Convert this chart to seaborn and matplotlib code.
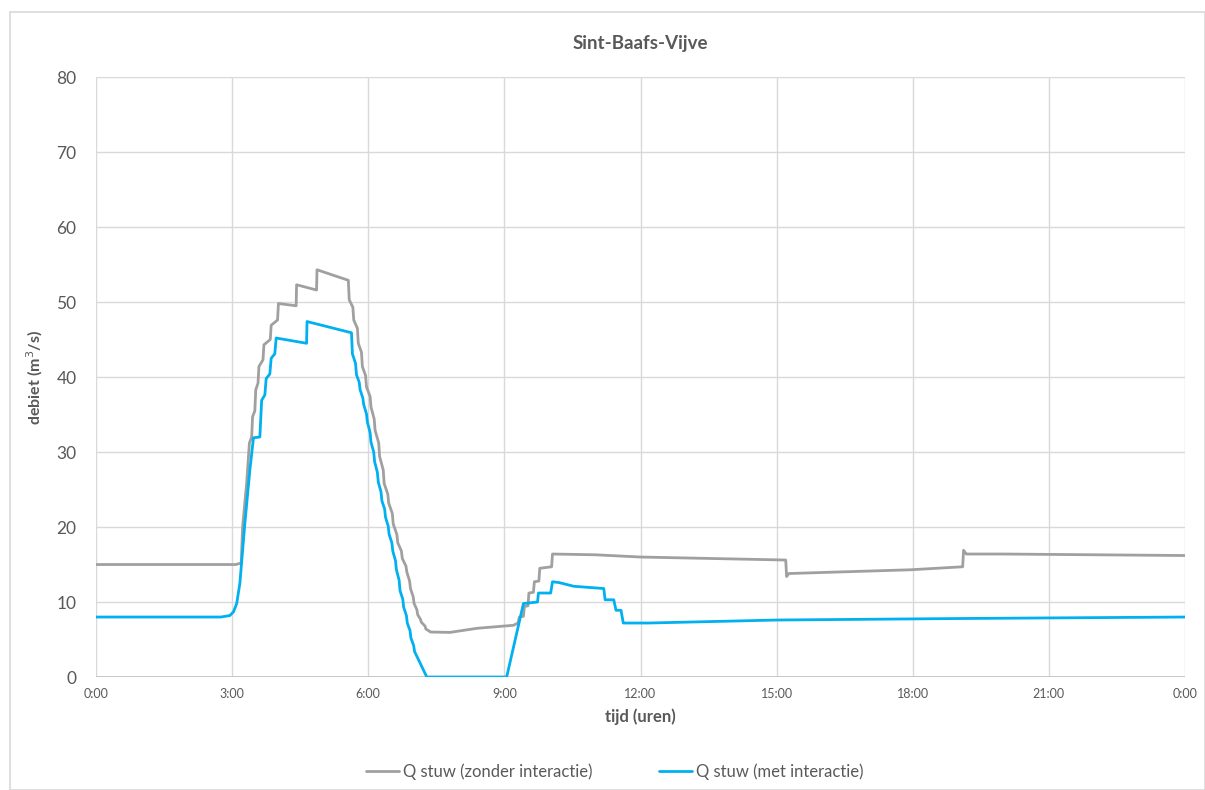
import matplotlib
matplotlib.use("Agg")
import matplotlib.pyplot as plt
import seaborn as sns
import pandas as pd
from matplotlib.patches import Rectangle

# Discharge at the weir, time in hours since midnight
t_zonder = [0.00, 3.08, 3.20, 3.23, 3.32, 3.38, 3.43, 3.45, 3.50, 3.52, 3.57, 3.59, 3.68, 3.70,
            3.84, 3.86, 4.00, 4.02, 4.41, 4.42, 4.86, 4.87, 5.56,
            5.58, 5.66, 5.68, 5.76, 5.78, 5.85, 5.87, 5.94, 5.96, 6.04, 6.06, 6.13, 6.15, 6.23,
            6.25, 6.33, 6.35, 6.43, 6.45, 6.53, 6.55, 6.63, 6.65, 6.73, 6.75, 6.83, 6.85, 6.91,
            6.93, 6.99, 7.01, 7.07, 7.09, 7.15, 7.17, 7.25, 7.27, 7.35, 7.37, 7.80, 8.40, 9.20,
            9.30, 9.33, 9.42, 9.44, 9.52, 9.54, 9.64, 9.66, 9.76, 9.78, 10.04, 10.06, 11.00,
            12.00, 15.20, 15.22, 15.27, 16.33, 17.95, 19.10, 19.12, 19.18, 20.00, 24.00]
q_zonder = [15.0, 15.0, 15.2, 20.0, 25.9, 31.2, 32.0, 34.7, 35.5, 38.3, 39.2, 41.4, 42.3, 44.3,
            45.0, 46.9, 47.6, 49.8, 49.5, 52.3, 51.6, 54.3, 52.9,
            50.3, 49.3, 47.6, 46.5, 44.5, 43.3, 41.4, 40.2, 38.7, 37.4, 36.0, 34.4, 32.9, 31.2,
            29.4, 27.6, 25.8, 24.4, 23.2, 21.8, 20.4, 19.0, 17.9, 16.8, 15.8, 14.8, 14.0, 12.8,
            11.8, 10.7, 9.8, 9.0, 8.3, 7.7, 7.3, 6.8, 6.4, 6.1, 6.0, 5.95, 6.5, 6.9,
            7.2, 8.0, 8.1, 9.4, 9.5, 11.2, 11.3, 12.7, 12.8, 14.5, 14.7, 16.4, 16.3,
            16.0, 15.6, 13.4, 13.8, 14.0, 14.3, 14.7, 16.9, 16.4, 16.4, 16.2]

t_met = [0.00, 2.75, 2.95, 3.03, 3.10, 3.17, 3.28, 3.39, 3.47, 3.61, 3.65, 3.72, 3.75, 3.83,
         3.86, 3.94, 3.97, 4.64, 4.65, 5.63,
         5.65, 5.72, 5.74, 5.80, 5.82, 5.88, 5.90, 5.96, 5.98, 6.04, 6.06, 6.12, 6.14, 6.20,
         6.22, 6.28, 6.30, 6.36, 6.38, 6.44, 6.46, 6.52, 6.54, 6.60, 6.62, 6.68, 6.70, 6.76,
         6.78, 6.84, 6.86, 6.92, 6.94, 7.00, 7.02, 7.29, 9.05, 9.42, 9.73, 9.75, 10.02, 10.06,
         10.20, 10.53, 11.19, 11.22, 11.41, 11.46, 11.57, 11.62, 12.17, 15.00, 19.00, 24.00]
q_met = [8.0, 8.0, 8.2, 8.7, 9.8, 12.5, 20.5, 27.6, 31.9, 32.0, 36.9, 37.6, 39.8, 40.4,
         42.5, 43.1, 45.2, 44.5, 47.4, 45.9,
         43.1, 41.8, 40.3, 39.3, 38.3, 37.2, 36.3, 35.1, 34.0, 32.6, 31.3, 30.0, 28.7, 27.3,
         26.0, 24.7, 23.5, 22.4, 21.3, 20.1, 19.0, 17.9, 16.8, 15.5, 14.3, 12.9, 11.5, 10.4,
         9.3, 8.2, 7.2, 6.2, 5.2, 4.2, 3.4, 0.0, 0.0, 9.8, 10.0, 11.2, 11.2, 12.7,
         12.6, 12.1, 11.8, 10.3, 10.3, 8.9, 8.9, 7.2, 7.2, 7.6, 7.8, 8.0]

labels = ["Q stuw (zonder interactie)", "Q stuw (met interactie)"]
colors = ["#a0a0a0", "#00b0f0"]
x_ticks = [0, 3, 6, 9, 12, 15, 18, 21, 24]
x_labels = ["0:00", "3:00", "6:00", "9:00", "12:00", "15:00", "18:00", "21:00", "0:00"]
y_ticks = [0, 10, 20, 30, 40, 50, 60, 70, 80]

df = pd.concat([
    pd.DataFrame({"tijd": t_zonder, "debiet": q_zonder, "reeks": labels[0]}),
    pd.DataFrame({"tijd": t_met, "debiet": q_met, "reeks": labels[1]}),
], ignore_index=True)

sns.set_theme(style="whitegrid")
plt.rcParams["font.family"] = ["Lato", "DejaVu Sans"]
txt = "#595959"

fig = plt.figure(figsize=(12.05, 7.9), dpi=100)
fig.patches.append(Rectangle((0.008, 0.0), 0.992, 0.985, transform=fig.transFigure,
                             fill=False, edgecolor="#d9d9d9", linewidth=1.2))
ax = fig.add_axes([0.0797, 0.143, 0.9037, 0.7595])

sns.lineplot(data=df, x="tijd", y="debiet", hue="reeks", palette=dict(zip(labels, colors)),
             estimator=None, sort=False, linewidth=2.0, ax=ax, legend=True)

ax.set_xlim(0, 24)
ax.set_ylim(0, 80)
ax.set_xticks(x_ticks)
ax.set_xticklabels(x_labels)
ax.set_yticks(y_ticks)
ax.grid(True, color="#d9d9d9", linewidth=1.0)
for s in ax.spines.values():
    s.set_visible(False)
ax.axhline(0, color="#bfbfbf", linewidth=1.2, zorder=1)
ax.tick_params(axis="x", labelsize=9, colors=txt, pad=8, length=0)
ax.tick_params(axis="y", labelsize=12.5, colors=txt, pad=14, length=0)

ax.set_xlabel("tijd (uren)", fontsize=12, fontweight="bold", color=txt, labelpad=6)
ax.set_ylabel("debiet (m$^3$/s)", fontsize=11.5, fontweight="bold", color=txt, labelpad=8)
ax.set_title("Sint-Baafs-Vijve", fontsize=13.5, fontweight="bold", color=txt, pad=20)

handles, lbls = ax.get_legend_handles_labels()
ax.get_legend().remove()
fig.legend(handles, lbls, loc="center", bbox_to_anchor=(0.51, 0.023), ncol=2,
           frameon=False, fontsize=12, handlelength=2.0, handletextpad=0.2,
           columnspacing=4.0, labelcolor=txt)

fig.savefig("out.png", dpi=100)
